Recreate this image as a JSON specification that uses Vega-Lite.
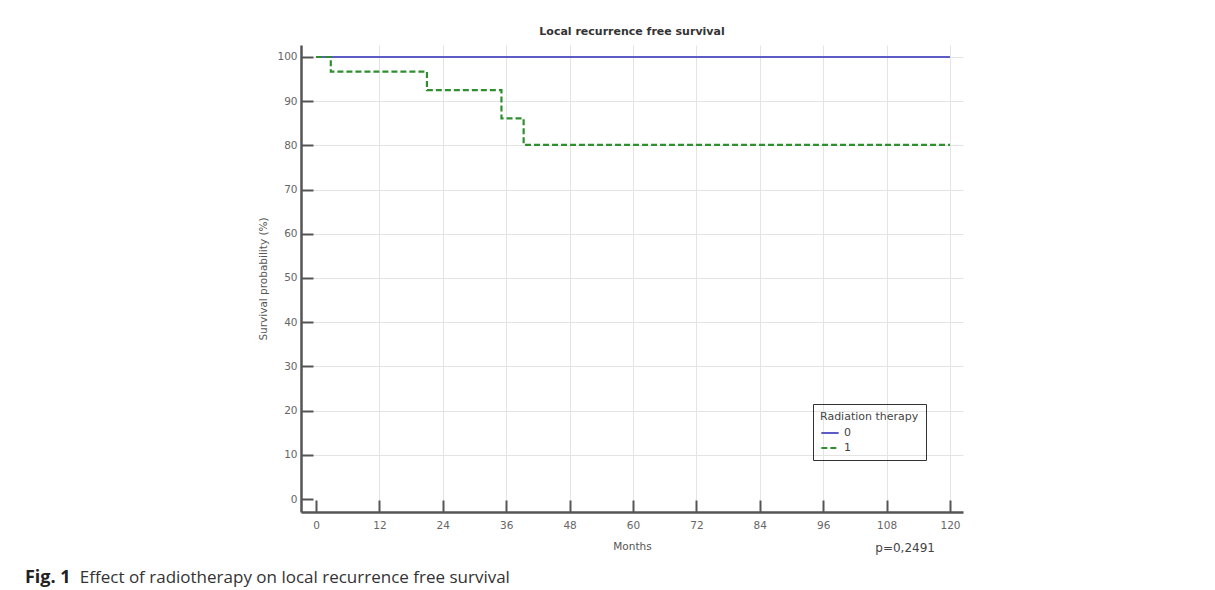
{
  "$schema": "https://vega.github.io/schema/vega-lite/v6.json",
  "width": 662,
  "height": 467,
  "autosize": {"type": "none"},
  "padding": {"left": 301, "top": 45, "right": 252, "bottom": 78},
  "background": "white",
  "title": {
    "text": "Local recurrence free survival",
    "anchor": "middle",
    "font": "DejaVu Sans",
    "fontSize": 11,
    "fontWeight": "bold",
    "color": "#333333",
    "offset": 8
  },
  "config": {"view": {"stroke": null}},
  "layer": [
    {
      "data": {
        "values": [
          {"month": 0, "surv": 100, "group": "0"},
          {"month": 120, "surv": 100, "group": "0"},
          {"month": 0, "surv": 100, "group": "1"},
          {"month": 2.8, "surv": 96.7, "group": "1"},
          {"month": 21.0, "surv": 92.5, "group": "1"},
          {"month": 35.1, "surv": 86.1, "group": "1"},
          {"month": 39.3, "surv": 80.1, "group": "1"},
          {"month": 120, "surv": 80.1, "group": "1"}
        ]
      },
      "mark": {"type": "line", "interpolate": "step-after", "strokeWidth": 2.2},
      "encoding": {
        "x": {
          "field": "month",
          "type": "quantitative",
          "scale": {"domain": [-2.84, 122.46], "nice": false, "zero": false},
          "axis": {
            "title": "Months",
            "values": [0, 12, 24, 36, 48, 60, 72, 84, 96, 108, 120],
            "domainColor": "#555555",
            "domainWidth": 2.5,
            "tickColor": "#555555",
            "tickWidth": 2,
            "tickSize": -12,
            "labelPadding": 20,
            "labelFont": "DejaVu Sans",
            "labelFontSize": 10.5,
            "labelColor": "#666666",
            "titleFont": "DejaVu Sans",
            "titleFontSize": 10.5,
            "titleFontWeight": "normal",
            "titleColor": "#555555",
            "titlePadding": 11,
            "grid": true,
            "gridColor": "#e4e4e4",
            "gridWidth": 1,
            "gridOpacity": {"condition": {"test": "datum.value === 0", "value": 0}, "value": 1}
          }
        },
        "y": {
          "field": "surv",
          "type": "quantitative",
          "scale": {"domain": [-2.94, 102.71], "nice": false, "zero": false},
          "axis": {
            "title": "Survival probability (%)",
            "values": [0, 10, 20, 30, 40, 50, 60, 70, 80, 90, 100],
            "domainColor": "#555555",
            "domainWidth": 2.5,
            "tickColor": "#555555",
            "tickWidth": 2,
            "tickSize": -12,
            "labelPadding": 16,
            "labelFont": "DejaVu Sans",
            "labelFontSize": 10.5,
            "labelColor": "#666666",
            "titleFont": "DejaVu Sans",
            "titleFontSize": 10.5,
            "titleFontWeight": "normal",
            "titleColor": "#555555",
            "titlePadding": 8,
            "grid": true,
            "gridColor": "#e4e4e4",
            "gridWidth": 1,
            "gridOpacity": {"condition": {"test": "datum.value === 0", "value": 0}, "value": 1}
          }
        },
        "color": {
          "field": "group",
          "type": "nominal",
          "scale": {"domain": ["0", "1"], "range": ["#5c5cc4", "#2f8f2f"]},
          "legend": {
            "title": "Radiation therapy",
            "orient": "none",
            "legendX": 512,
            "legendY": 359,
            "symbolType": "stroke",
            "symbolSize": 300,
            "symbolStrokeWidth": 2,
            "strokeColor": "#333333",
            "padding": 7,
            "titlePadding": 1,
            "rowPadding": 0,
            "titleFont": "DejaVu Sans",
            "titleFontSize": 11,
            "titleFontWeight": "normal",
            "titleColor": "#444444",
            "labelFont": "DejaVu Sans",
            "labelFontSize": 11,
            "labelColor": "#444444"
          }
        },
        "strokeDash": {
          "field": "group",
          "type": "nominal",
          "scale": {"domain": ["0", "1"], "range": [[1, 0], [6, 3]]},
          "legend": {
            "title": "Radiation therapy",
            "orient": "none",
            "legendX": 512,
            "legendY": 359,
            "symbolType": "stroke",
            "symbolSize": 300,
            "symbolStrokeWidth": 2,
            "strokeColor": "#333333",
            "padding": 7,
            "titlePadding": 1,
            "rowPadding": 0,
            "titleFont": "DejaVu Sans",
            "titleFontSize": 11,
            "titleFontWeight": "normal",
            "titleColor": "#444444",
            "labelFont": "DejaVu Sans",
            "labelFontSize": 11,
            "labelColor": "#444444"
          }
        }
      }
    },
    {
      "data": {"values": [{"note": "p=0,2491"}]},
      "mark": {"type": "text", "align": "center", "baseline": "middle", "font": "DejaVu Sans", "fontSize": 12, "color": "#444444"},
      "encoding": {
        "x": {"datum": 111.5, "type": "quantitative"},
        "y": {"datum": -11.1, "type": "quantitative"},
        "text": {"field": "note"}
      }
    },
    {
      "data": {"values": [{"note": "Fig. 1"}]},
      "mark": {"type": "text", "align": "left", "baseline": "alphabetic", "font": "Open Sans", "fontSize": 18, "fontWeight": "bold", "color": "#222222"},
      "encoding": {
        "x": {"datum": -55.1, "type": "quantitative"},
        "y": {"datum": -19.0, "type": "quantitative"},
        "text": {"field": "note"}
      }
    },
    {
      "data": {"values": [{"note": "Effect of radiotherapy on local recurrence free survival"}]},
      "mark": {"type": "text", "align": "left", "baseline": "alphabetic", "font": "Open Sans", "fontSize": 17, "color": "#333333"},
      "encoding": {
        "x": {"datum": -44.7, "type": "quantitative"},
        "y": {"datum": -19.0, "type": "quantitative"},
        "text": {"field": "note"}
      }
    }
  ]
}
